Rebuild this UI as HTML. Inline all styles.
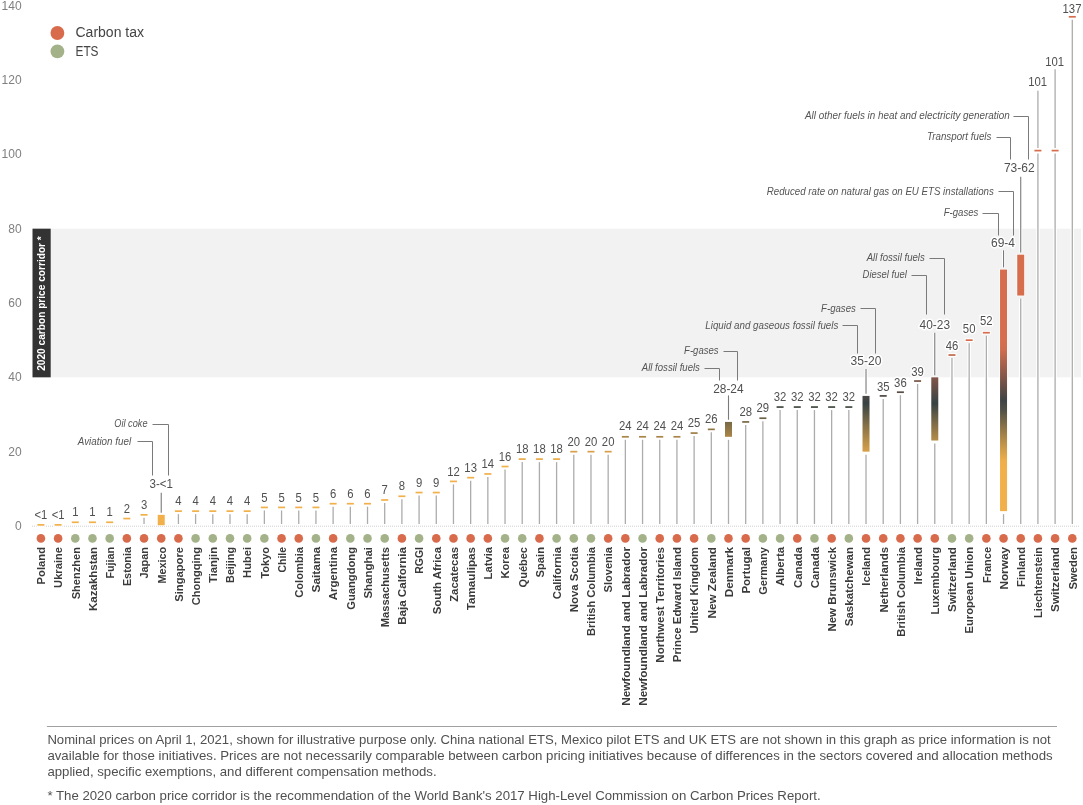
<!DOCTYPE html><html><head><meta charset="utf-8"><style>
html,body{margin:0;padding:0;background:#fff;width:1083px;height:805px;overflow:hidden}
svg{display:block;font-family:"Liberation Sans",sans-serif;will-change:transform}
.yl{font-size:12px;fill:#808080;text-anchor:end}
.vl{font-size:12.4px;fill:#505050;text-anchor:middle;stroke:#fff;stroke-width:3px;paint-order:stroke;stroke-linejoin:round}
.cl{font-size:11.2px;font-weight:bold;fill:#3a3a3a;text-anchor:end}
.an{font-size:10.1px;font-style:italic;fill:#555;text-anchor:end;stroke:#f2f2f2;stroke-width:0;}
.ft{font-size:13.2px;fill:#505050}
</style></head><body>
<svg width="1083" height="805" viewBox="0 0 1083 805">
<defs>
<linearGradient id="g7" gradientUnits="userSpaceOnUse" x1="0" y1="514.85" x2="0" y2="525.26">
<stop offset="0.0000" stop-color="#f2b04a"/>
<stop offset="0.0417" stop-color="#f2b04a"/>
<stop offset="0.0833" stop-color="#f2b04a"/>
<stop offset="0.1250" stop-color="#f2b04a"/>
<stop offset="0.1667" stop-color="#f2b04a"/>
<stop offset="0.2083" stop-color="#f2b04a"/>
<stop offset="0.2500" stop-color="#f2b04a"/>
<stop offset="0.2917" stop-color="#f2b04a"/>
<stop offset="0.3333" stop-color="#f2b04a"/>
<stop offset="0.3750" stop-color="#f2b04a"/>
<stop offset="0.4167" stop-color="#f2b04a"/>
<stop offset="0.4583" stop-color="#f2b04a"/>
<stop offset="0.5000" stop-color="#f2b04a"/>
<stop offset="0.5417" stop-color="#f2b04a"/>
<stop offset="0.5833" stop-color="#f2b04a"/>
<stop offset="0.6250" stop-color="#f2b04a"/>
<stop offset="0.6667" stop-color="#f2b04a"/>
<stop offset="0.7083" stop-color="#f2b04a"/>
<stop offset="0.7500" stop-color="#f2b04a"/>
<stop offset="0.7917" stop-color="#f2b04a"/>
<stop offset="0.8333" stop-color="#f2b04a"/>
<stop offset="0.8750" stop-color="#f2b04a"/>
<stop offset="0.9167" stop-color="#f2b04a"/>
<stop offset="0.9583" stop-color="#f2b04a"/>
<stop offset="1.0000" stop-color="#f2b04a"/>
</linearGradient>
<linearGradient id="g40" gradientUnits="userSpaceOnUse" x1="0" y1="421.93" x2="0" y2="436.80">
<stop offset="0.0000" stop-color="#786946"/>
<stop offset="0.0417" stop-color="#7b6a46"/>
<stop offset="0.0833" stop-color="#7d6b46"/>
<stop offset="0.1250" stop-color="#7f6c46"/>
<stop offset="0.1667" stop-color="#816d46"/>
<stop offset="0.2083" stop-color="#836f46"/>
<stop offset="0.2500" stop-color="#857047"/>
<stop offset="0.2917" stop-color="#877147"/>
<stop offset="0.3333" stop-color="#897247"/>
<stop offset="0.3750" stop-color="#8b7447"/>
<stop offset="0.4167" stop-color="#8d7547"/>
<stop offset="0.4583" stop-color="#8f7647"/>
<stop offset="0.5000" stop-color="#927747"/>
<stop offset="0.5417" stop-color="#947847"/>
<stop offset="0.5833" stop-color="#967a47"/>
<stop offset="0.6250" stop-color="#987b47"/>
<stop offset="0.6667" stop-color="#9a7c47"/>
<stop offset="0.7083" stop-color="#9c7d47"/>
<stop offset="0.7500" stop-color="#9e7e47"/>
<stop offset="0.7917" stop-color="#a08047"/>
<stop offset="0.8333" stop-color="#a28147"/>
<stop offset="0.8750" stop-color="#a48247"/>
<stop offset="0.9167" stop-color="#a68348"/>
<stop offset="0.9583" stop-color="#a88448"/>
<stop offset="1.0000" stop-color="#aa8548"/>
</linearGradient>
<linearGradient id="g48" gradientUnits="userSpaceOnUse" x1="0" y1="395.91" x2="0" y2="451.66">
<stop offset="0.0000" stop-color="#4c4845"/>
<stop offset="0.0417" stop-color="#464645"/>
<stop offset="0.0833" stop-color="#3f4444"/>
<stop offset="0.1250" stop-color="#384244"/>
<stop offset="0.1667" stop-color="#3e4644"/>
<stop offset="0.2083" stop-color="#464b44"/>
<stop offset="0.2500" stop-color="#4e5045"/>
<stop offset="0.2917" stop-color="#575545"/>
<stop offset="0.3333" stop-color="#5f5945"/>
<stop offset="0.3750" stop-color="#675e46"/>
<stop offset="0.4167" stop-color="#6f6346"/>
<stop offset="0.4583" stop-color="#776846"/>
<stop offset="0.5000" stop-color="#7f6c46"/>
<stop offset="0.5417" stop-color="#877147"/>
<stop offset="0.5833" stop-color="#8e7547"/>
<stop offset="0.6250" stop-color="#967a47"/>
<stop offset="0.6667" stop-color="#9e7e47"/>
<stop offset="0.7083" stop-color="#a58348"/>
<stop offset="0.7500" stop-color="#ad8748"/>
<stop offset="0.7917" stop-color="#b48c48"/>
<stop offset="0.8333" stop-color="#bb9048"/>
<stop offset="0.8750" stop-color="#c29448"/>
<stop offset="0.9167" stop-color="#c99849"/>
<stop offset="0.9583" stop-color="#d09c49"/>
<stop offset="1.0000" stop-color="#d7a049"/>
</linearGradient>
<linearGradient id="g52" gradientUnits="userSpaceOnUse" x1="0" y1="377.33" x2="0" y2="440.51">
<stop offset="0.0000" stop-color="#815749"/>
<stop offset="0.0417" stop-color="#7a5448"/>
<stop offset="0.0833" stop-color="#725248"/>
<stop offset="0.1250" stop-color="#6b5047"/>
<stop offset="0.1667" stop-color="#634e47"/>
<stop offset="0.2083" stop-color="#5c4c46"/>
<stop offset="0.2500" stop-color="#544a46"/>
<stop offset="0.2917" stop-color="#4d4845"/>
<stop offset="0.3333" stop-color="#454645"/>
<stop offset="0.3750" stop-color="#3e4444"/>
<stop offset="0.4167" stop-color="#384344"/>
<stop offset="0.4583" stop-color="#424844"/>
<stop offset="0.5000" stop-color="#4b4e45"/>
<stop offset="0.5417" stop-color="#545345"/>
<stop offset="0.5833" stop-color="#5e5945"/>
<stop offset="0.6250" stop-color="#675e46"/>
<stop offset="0.6667" stop-color="#706446"/>
<stop offset="0.7083" stop-color="#796946"/>
<stop offset="0.7500" stop-color="#826e46"/>
<stop offset="0.7917" stop-color="#8b7347"/>
<stop offset="0.8333" stop-color="#947847"/>
<stop offset="0.8750" stop-color="#9c7e47"/>
<stop offset="0.9167" stop-color="#a58348"/>
<stop offset="0.9583" stop-color="#ad8848"/>
<stop offset="1.0000" stop-color="#b58c48"/>
</linearGradient>
<linearGradient id="g56" gradientUnits="userSpaceOnUse" x1="0" y1="269.54" x2="0" y2="511.13">
<stop offset="0.0000" stop-color="#d66e4e"/>
<stop offset="0.0417" stop-color="#d66e4e"/>
<stop offset="0.0833" stop-color="#d66e4e"/>
<stop offset="0.1250" stop-color="#d66e4e"/>
<stop offset="0.1667" stop-color="#d66e4e"/>
<stop offset="0.2083" stop-color="#d66e4e"/>
<stop offset="0.2500" stop-color="#d66e4e"/>
<stop offset="0.2917" stop-color="#d66e4e"/>
<stop offset="0.3333" stop-color="#cf6c4e"/>
<stop offset="0.3750" stop-color="#b2644c"/>
<stop offset="0.4167" stop-color="#965c4a"/>
<stop offset="0.4583" stop-color="#795448"/>
<stop offset="0.5000" stop-color="#5c4c46"/>
<stop offset="0.5417" stop-color="#3f4445"/>
<stop offset="0.5833" stop-color="#515145"/>
<stop offset="0.6250" stop-color="#746646"/>
<stop offset="0.6667" stop-color="#967a47"/>
<stop offset="0.7083" stop-color="#b68d48"/>
<stop offset="0.7500" stop-color="#d49e49"/>
<stop offset="0.7917" stop-color="#eeae4a"/>
<stop offset="0.8333" stop-color="#f2b04a"/>
<stop offset="0.8750" stop-color="#f2b04a"/>
<stop offset="0.9167" stop-color="#f2b04a"/>
<stop offset="0.9583" stop-color="#f2b04a"/>
<stop offset="1.0000" stop-color="#f2b04a"/>
</linearGradient>
<linearGradient id="g57" gradientUnits="userSpaceOnUse" x1="0" y1="254.67" x2="0" y2="295.56">
<stop offset="0.0000" stop-color="#d66e4e"/>
<stop offset="0.0417" stop-color="#d66e4e"/>
<stop offset="0.0833" stop-color="#d66e4e"/>
<stop offset="0.1250" stop-color="#d66e4e"/>
<stop offset="0.1667" stop-color="#d66e4e"/>
<stop offset="0.2083" stop-color="#d66e4e"/>
<stop offset="0.2500" stop-color="#d66e4e"/>
<stop offset="0.2917" stop-color="#d66e4e"/>
<stop offset="0.3333" stop-color="#d66e4e"/>
<stop offset="0.3750" stop-color="#d66e4e"/>
<stop offset="0.4167" stop-color="#d66e4e"/>
<stop offset="0.4583" stop-color="#d66e4e"/>
<stop offset="0.5000" stop-color="#d66e4e"/>
<stop offset="0.5417" stop-color="#d66e4e"/>
<stop offset="0.5833" stop-color="#d66e4e"/>
<stop offset="0.6250" stop-color="#d66e4e"/>
<stop offset="0.6667" stop-color="#d66e4e"/>
<stop offset="0.7083" stop-color="#d66e4e"/>
<stop offset="0.7500" stop-color="#d66e4e"/>
<stop offset="0.7917" stop-color="#d66e4e"/>
<stop offset="0.8333" stop-color="#d66e4e"/>
<stop offset="0.8750" stop-color="#d66e4e"/>
<stop offset="0.9167" stop-color="#d66e4e"/>
<stop offset="0.9583" stop-color="#d66e4e"/>
<stop offset="1.0000" stop-color="#d66e4e"/>
</linearGradient>
</defs>
<rect x="50.7" y="228.66" width="1030.30" height="148.67" fill="#f2f2f2"/>
<rect x="32.5" y="228.66" width="18.2" height="148.67" fill="#333"/>
<text transform="translate(45.0,370.8) rotate(-90)" font-size="11.8px" font-weight="bold" fill="#fff" textLength="134.6" lengthAdjust="spacingAndGlyphs">2020 carbon price corridor *</text>
<text class="yl" x="21.6" y="530.10">0</text>
<text class="yl" x="21.6" y="455.76">20</text>
<text class="yl" x="21.6" y="381.43">40</text>
<text class="yl" x="21.6" y="307.09">60</text>
<text class="yl" x="21.6" y="232.76">80</text>
<text class="yl" x="21.6" y="158.42">100</text>
<text class="yl" x="21.6" y="84.08">120</text>
<text class="yl" x="21.6" y="9.75">140</text>
<line x1="32" y1="526.2" x2="1080" y2="526.2" stroke="#d0d0d0" stroke-width="1" stroke-dasharray="1 1"/>
<line x1="144.04" y1="517.85" x2="144.04" y2="524" stroke="#fff" stroke-width="3.5"/>
<line x1="144.04" y1="517.85" x2="144.04" y2="524" stroke="#acacac" stroke-width="1.3"/>
<line x1="178.42" y1="514.13" x2="178.42" y2="524" stroke="#fff" stroke-width="3.5"/>
<line x1="178.42" y1="514.13" x2="178.42" y2="524" stroke="#acacac" stroke-width="1.3"/>
<line x1="195.61" y1="514.13" x2="195.61" y2="524" stroke="#fff" stroke-width="3.5"/>
<line x1="195.61" y1="514.13" x2="195.61" y2="524" stroke="#acacac" stroke-width="1.3"/>
<line x1="212.80" y1="514.13" x2="212.80" y2="524" stroke="#fff" stroke-width="3.5"/>
<line x1="212.80" y1="514.13" x2="212.80" y2="524" stroke="#acacac" stroke-width="1.3"/>
<line x1="229.99" y1="514.13" x2="229.99" y2="524" stroke="#fff" stroke-width="3.5"/>
<line x1="229.99" y1="514.13" x2="229.99" y2="524" stroke="#acacac" stroke-width="1.3"/>
<line x1="247.18" y1="514.13" x2="247.18" y2="524" stroke="#fff" stroke-width="3.5"/>
<line x1="247.18" y1="514.13" x2="247.18" y2="524" stroke="#acacac" stroke-width="1.3"/>
<line x1="264.37" y1="510.42" x2="264.37" y2="524" stroke="#fff" stroke-width="3.5"/>
<line x1="264.37" y1="510.42" x2="264.37" y2="524" stroke="#acacac" stroke-width="1.3"/>
<line x1="281.56" y1="510.42" x2="281.56" y2="524" stroke="#fff" stroke-width="3.5"/>
<line x1="281.56" y1="510.42" x2="281.56" y2="524" stroke="#acacac" stroke-width="1.3"/>
<line x1="298.75" y1="510.42" x2="298.75" y2="524" stroke="#fff" stroke-width="3.5"/>
<line x1="298.75" y1="510.42" x2="298.75" y2="524" stroke="#acacac" stroke-width="1.3"/>
<line x1="315.94" y1="510.42" x2="315.94" y2="524" stroke="#fff" stroke-width="3.5"/>
<line x1="315.94" y1="510.42" x2="315.94" y2="524" stroke="#acacac" stroke-width="1.3"/>
<line x1="333.13" y1="506.70" x2="333.13" y2="524" stroke="#fff" stroke-width="3.5"/>
<line x1="333.13" y1="506.70" x2="333.13" y2="524" stroke="#acacac" stroke-width="1.3"/>
<line x1="350.32" y1="506.70" x2="350.32" y2="524" stroke="#fff" stroke-width="3.5"/>
<line x1="350.32" y1="506.70" x2="350.32" y2="524" stroke="#acacac" stroke-width="1.3"/>
<line x1="367.51" y1="506.70" x2="367.51" y2="524" stroke="#fff" stroke-width="3.5"/>
<line x1="367.51" y1="506.70" x2="367.51" y2="524" stroke="#acacac" stroke-width="1.3"/>
<line x1="384.70" y1="502.98" x2="384.70" y2="524" stroke="#fff" stroke-width="3.5"/>
<line x1="384.70" y1="502.98" x2="384.70" y2="524" stroke="#acacac" stroke-width="1.3"/>
<line x1="401.89" y1="499.27" x2="401.89" y2="524" stroke="#fff" stroke-width="3.5"/>
<line x1="401.89" y1="499.27" x2="401.89" y2="524" stroke="#acacac" stroke-width="1.3"/>
<line x1="419.08" y1="495.55" x2="419.08" y2="524" stroke="#fff" stroke-width="3.5"/>
<line x1="419.08" y1="495.55" x2="419.08" y2="524" stroke="#acacac" stroke-width="1.3"/>
<line x1="436.27" y1="495.55" x2="436.27" y2="524" stroke="#fff" stroke-width="3.5"/>
<line x1="436.27" y1="495.55" x2="436.27" y2="524" stroke="#acacac" stroke-width="1.3"/>
<line x1="453.46" y1="484.40" x2="453.46" y2="524" stroke="#fff" stroke-width="3.5"/>
<line x1="453.46" y1="484.40" x2="453.46" y2="524" stroke="#acacac" stroke-width="1.3"/>
<line x1="470.65" y1="480.68" x2="470.65" y2="524" stroke="#fff" stroke-width="3.5"/>
<line x1="470.65" y1="480.68" x2="470.65" y2="524" stroke="#acacac" stroke-width="1.3"/>
<line x1="487.84" y1="476.96" x2="487.84" y2="524" stroke="#fff" stroke-width="3.5"/>
<line x1="487.84" y1="476.96" x2="487.84" y2="524" stroke="#acacac" stroke-width="1.3"/>
<line x1="505.03" y1="469.53" x2="505.03" y2="524" stroke="#fff" stroke-width="3.5"/>
<line x1="505.03" y1="469.53" x2="505.03" y2="524" stroke="#acacac" stroke-width="1.3"/>
<line x1="522.22" y1="462.10" x2="522.22" y2="524" stroke="#fff" stroke-width="3.5"/>
<line x1="522.22" y1="462.10" x2="522.22" y2="524" stroke="#acacac" stroke-width="1.3"/>
<line x1="539.41" y1="462.10" x2="539.41" y2="524" stroke="#fff" stroke-width="3.5"/>
<line x1="539.41" y1="462.10" x2="539.41" y2="524" stroke="#acacac" stroke-width="1.3"/>
<line x1="556.60" y1="462.10" x2="556.60" y2="524" stroke="#fff" stroke-width="3.5"/>
<line x1="556.60" y1="462.10" x2="556.60" y2="524" stroke="#acacac" stroke-width="1.3"/>
<line x1="573.79" y1="454.66" x2="573.79" y2="524" stroke="#fff" stroke-width="3.5"/>
<line x1="573.79" y1="454.66" x2="573.79" y2="524" stroke="#acacac" stroke-width="1.3"/>
<line x1="590.98" y1="454.66" x2="590.98" y2="524" stroke="#fff" stroke-width="3.5"/>
<line x1="590.98" y1="454.66" x2="590.98" y2="524" stroke="#acacac" stroke-width="1.3"/>
<line x1="608.17" y1="454.66" x2="608.17" y2="524" stroke="#fff" stroke-width="3.5"/>
<line x1="608.17" y1="454.66" x2="608.17" y2="524" stroke="#acacac" stroke-width="1.3"/>
<line x1="625.36" y1="439.80" x2="625.36" y2="524" stroke="#fff" stroke-width="3.5"/>
<line x1="625.36" y1="439.80" x2="625.36" y2="524" stroke="#acacac" stroke-width="1.3"/>
<line x1="642.55" y1="439.80" x2="642.55" y2="524" stroke="#fff" stroke-width="3.5"/>
<line x1="642.55" y1="439.80" x2="642.55" y2="524" stroke="#acacac" stroke-width="1.3"/>
<line x1="659.74" y1="439.80" x2="659.74" y2="524" stroke="#fff" stroke-width="3.5"/>
<line x1="659.74" y1="439.80" x2="659.74" y2="524" stroke="#acacac" stroke-width="1.3"/>
<line x1="676.93" y1="439.80" x2="676.93" y2="524" stroke="#fff" stroke-width="3.5"/>
<line x1="676.93" y1="439.80" x2="676.93" y2="524" stroke="#acacac" stroke-width="1.3"/>
<line x1="694.12" y1="436.08" x2="694.12" y2="524" stroke="#fff" stroke-width="3.5"/>
<line x1="694.12" y1="436.08" x2="694.12" y2="524" stroke="#acacac" stroke-width="1.3"/>
<line x1="711.31" y1="432.36" x2="711.31" y2="524" stroke="#fff" stroke-width="3.5"/>
<line x1="711.31" y1="432.36" x2="711.31" y2="524" stroke="#acacac" stroke-width="1.3"/>
<line x1="728.50" y1="439.80" x2="728.50" y2="524" stroke="#fff" stroke-width="3.5"/>
<line x1="728.50" y1="439.80" x2="728.50" y2="524" stroke="#acacac" stroke-width="1.3"/>
<line x1="745.69" y1="424.93" x2="745.69" y2="524" stroke="#fff" stroke-width="3.5"/>
<line x1="745.69" y1="424.93" x2="745.69" y2="524" stroke="#acacac" stroke-width="1.3"/>
<line x1="762.88" y1="421.21" x2="762.88" y2="524" stroke="#fff" stroke-width="3.5"/>
<line x1="762.88" y1="421.21" x2="762.88" y2="524" stroke="#acacac" stroke-width="1.3"/>
<line x1="780.07" y1="410.06" x2="780.07" y2="524" stroke="#fff" stroke-width="3.5"/>
<line x1="780.07" y1="410.06" x2="780.07" y2="524" stroke="#acacac" stroke-width="1.3"/>
<line x1="797.26" y1="410.06" x2="797.26" y2="524" stroke="#fff" stroke-width="3.5"/>
<line x1="797.26" y1="410.06" x2="797.26" y2="524" stroke="#acacac" stroke-width="1.3"/>
<line x1="814.45" y1="410.06" x2="814.45" y2="524" stroke="#fff" stroke-width="3.5"/>
<line x1="814.45" y1="410.06" x2="814.45" y2="524" stroke="#acacac" stroke-width="1.3"/>
<line x1="831.64" y1="410.06" x2="831.64" y2="524" stroke="#fff" stroke-width="3.5"/>
<line x1="831.64" y1="410.06" x2="831.64" y2="524" stroke="#acacac" stroke-width="1.3"/>
<line x1="848.83" y1="410.06" x2="848.83" y2="524" stroke="#fff" stroke-width="3.5"/>
<line x1="848.83" y1="410.06" x2="848.83" y2="524" stroke="#acacac" stroke-width="1.3"/>
<line x1="866.02" y1="454.66" x2="866.02" y2="524" stroke="#fff" stroke-width="3.5"/>
<line x1="866.02" y1="454.66" x2="866.02" y2="524" stroke="#acacac" stroke-width="1.3"/>
<line x1="883.21" y1="398.91" x2="883.21" y2="524" stroke="#fff" stroke-width="3.5"/>
<line x1="883.21" y1="398.91" x2="883.21" y2="524" stroke="#acacac" stroke-width="1.3"/>
<line x1="900.40" y1="395.20" x2="900.40" y2="524" stroke="#fff" stroke-width="3.5"/>
<line x1="900.40" y1="395.20" x2="900.40" y2="524" stroke="#acacac" stroke-width="1.3"/>
<line x1="917.59" y1="384.04" x2="917.59" y2="524" stroke="#fff" stroke-width="3.5"/>
<line x1="917.59" y1="384.04" x2="917.59" y2="524" stroke="#acacac" stroke-width="1.3"/>
<line x1="934.78" y1="443.51" x2="934.78" y2="524" stroke="#fff" stroke-width="3.5"/>
<line x1="934.78" y1="443.51" x2="934.78" y2="524" stroke="#acacac" stroke-width="1.3"/>
<line x1="951.97" y1="358.03" x2="951.97" y2="524" stroke="#fff" stroke-width="3.5"/>
<line x1="951.97" y1="358.03" x2="951.97" y2="524" stroke="#acacac" stroke-width="1.3"/>
<line x1="969.16" y1="343.16" x2="969.16" y2="524" stroke="#fff" stroke-width="3.5"/>
<line x1="969.16" y1="343.16" x2="969.16" y2="524" stroke="#acacac" stroke-width="1.3"/>
<line x1="986.35" y1="335.73" x2="986.35" y2="524" stroke="#fff" stroke-width="3.5"/>
<line x1="986.35" y1="335.73" x2="986.35" y2="524" stroke="#acacac" stroke-width="1.3"/>
<line x1="1003.54" y1="514.13" x2="1003.54" y2="524" stroke="#fff" stroke-width="3.5"/>
<line x1="1003.54" y1="514.13" x2="1003.54" y2="524" stroke="#acacac" stroke-width="1.3"/>
<line x1="1020.73" y1="298.56" x2="1020.73" y2="524" stroke="#fff" stroke-width="3.5"/>
<line x1="1020.73" y1="298.56" x2="1020.73" y2="524" stroke="#acacac" stroke-width="1.3"/>
<line x1="1037.92" y1="90.70" x2="1037.92" y2="148.10" stroke="#fff" stroke-width="3.5"/>
<line x1="1037.92" y1="90.70" x2="1037.92" y2="148.10" stroke="#acacac" stroke-width="1.3"/>
<line x1="1037.92" y1="153.60" x2="1037.92" y2="524" stroke="#fff" stroke-width="3.5"/>
<line x1="1037.92" y1="153.60" x2="1037.92" y2="524" stroke="#acacac" stroke-width="1.3"/>
<line x1="1055.11" y1="69.20" x2="1055.11" y2="148.10" stroke="#fff" stroke-width="3.5"/>
<line x1="1055.11" y1="69.20" x2="1055.11" y2="148.10" stroke="#acacac" stroke-width="1.3"/>
<line x1="1055.11" y1="153.60" x2="1055.11" y2="524" stroke="#fff" stroke-width="3.5"/>
<line x1="1055.11" y1="153.60" x2="1055.11" y2="524" stroke="#acacac" stroke-width="1.3"/>
<line x1="1072.30" y1="19.80" x2="1072.30" y2="524" stroke="#fff" stroke-width="3.5"/>
<line x1="1072.30" y1="19.80" x2="1072.30" y2="524" stroke="#acacac" stroke-width="1.3"/>
<line x1="161.23" y1="492.70" x2="161.23" y2="512.65" stroke="#fff" stroke-width="3"/>
<line x1="161.23" y1="492.70" x2="161.23" y2="512.65" stroke="#7a7a7a" stroke-width="1.1"/>
<line x1="728.50" y1="395.40" x2="728.50" y2="419.73" stroke="#fff" stroke-width="3"/>
<line x1="728.50" y1="395.40" x2="728.50" y2="419.73" stroke="#7a7a7a" stroke-width="1.1"/>
<line x1="866.02" y1="369.00" x2="866.02" y2="393.71" stroke="#fff" stroke-width="3"/>
<line x1="866.02" y1="369.00" x2="866.02" y2="393.71" stroke="#7a7a7a" stroke-width="1.1"/>
<line x1="934.78" y1="332.80" x2="934.78" y2="375.13" stroke="#fff" stroke-width="3"/>
<line x1="934.78" y1="332.80" x2="934.78" y2="375.13" stroke="#7a7a7a" stroke-width="1.1"/>
<line x1="1003.54" y1="250.30" x2="1003.54" y2="267.34" stroke="#fff" stroke-width="3"/>
<line x1="1003.54" y1="250.30" x2="1003.54" y2="267.34" stroke="#7a7a7a" stroke-width="1.1"/>
<line x1="1020.73" y1="176.80" x2="1020.73" y2="252.47" stroke="#fff" stroke-width="3"/>
<line x1="1020.73" y1="176.80" x2="1020.73" y2="252.47" stroke="#7a7a7a" stroke-width="1.1"/>
<rect x="37.40" y="524.03" width="7" height="1.7" fill="#f2b04a" stroke="#fff" stroke-width="2" paint-order="stroke"/>
<rect x="54.59" y="524.03" width="7" height="1.7" fill="#f2b04a" stroke="#fff" stroke-width="2" paint-order="stroke"/>
<rect x="71.78" y="521.43" width="7" height="1.7" fill="#f2b04a" stroke="#fff" stroke-width="2" paint-order="stroke"/>
<rect x="88.97" y="521.43" width="7" height="1.7" fill="#f2b04a" stroke="#fff" stroke-width="2" paint-order="stroke"/>
<rect x="106.16" y="521.43" width="7" height="1.7" fill="#f2b04a" stroke="#fff" stroke-width="2" paint-order="stroke"/>
<rect x="123.35" y="517.72" width="7" height="1.7" fill="#f2b04a" stroke="#fff" stroke-width="2" paint-order="stroke"/>
<rect x="140.54" y="514.00" width="7" height="1.7" fill="#f2b04a" stroke="#fff" stroke-width="2" paint-order="stroke"/>
<rect x="157.73" y="514.85" width="7" height="10.41" fill="url(#g7)" stroke="#fff" stroke-width="1.4" paint-order="stroke"/>
<rect x="174.92" y="510.28" width="7" height="1.7" fill="#f2b04a" stroke="#fff" stroke-width="2" paint-order="stroke"/>
<rect x="192.11" y="510.28" width="7" height="1.7" fill="#f2b04a" stroke="#fff" stroke-width="2" paint-order="stroke"/>
<rect x="209.30" y="510.28" width="7" height="1.7" fill="#f2b04a" stroke="#fff" stroke-width="2" paint-order="stroke"/>
<rect x="226.49" y="510.28" width="7" height="1.7" fill="#f2b04a" stroke="#fff" stroke-width="2" paint-order="stroke"/>
<rect x="243.68" y="510.28" width="7" height="1.7" fill="#f2b04a" stroke="#fff" stroke-width="2" paint-order="stroke"/>
<rect x="260.87" y="506.57" width="7" height="1.7" fill="#f2b04a" stroke="#fff" stroke-width="2" paint-order="stroke"/>
<rect x="278.06" y="506.57" width="7" height="1.7" fill="#f2b04a" stroke="#fff" stroke-width="2" paint-order="stroke"/>
<rect x="295.25" y="506.57" width="7" height="1.7" fill="#f2b04a" stroke="#fff" stroke-width="2" paint-order="stroke"/>
<rect x="312.44" y="506.57" width="7" height="1.7" fill="#f2b04a" stroke="#fff" stroke-width="2" paint-order="stroke"/>
<rect x="329.63" y="502.85" width="7" height="1.7" fill="#f2b04a" stroke="#fff" stroke-width="2" paint-order="stroke"/>
<rect x="346.82" y="502.85" width="7" height="1.7" fill="#f2b04a" stroke="#fff" stroke-width="2" paint-order="stroke"/>
<rect x="364.01" y="502.85" width="7" height="1.7" fill="#f2b04a" stroke="#fff" stroke-width="2" paint-order="stroke"/>
<rect x="381.20" y="499.13" width="7" height="1.7" fill="#f2b04a" stroke="#fff" stroke-width="2" paint-order="stroke"/>
<rect x="398.39" y="495.42" width="7" height="1.7" fill="#f2b04a" stroke="#fff" stroke-width="2" paint-order="stroke"/>
<rect x="415.58" y="491.70" width="7" height="1.7" fill="#f2b04a" stroke="#fff" stroke-width="2" paint-order="stroke"/>
<rect x="432.77" y="491.70" width="7" height="1.7" fill="#f2b04a" stroke="#fff" stroke-width="2" paint-order="stroke"/>
<rect x="449.96" y="480.55" width="7" height="1.7" fill="#f2b04a" stroke="#fff" stroke-width="2" paint-order="stroke"/>
<rect x="467.15" y="476.83" width="7" height="1.7" fill="#f2b04a" stroke="#fff" stroke-width="2" paint-order="stroke"/>
<rect x="484.34" y="473.11" width="7" height="1.7" fill="#f2b04a" stroke="#fff" stroke-width="2" paint-order="stroke"/>
<rect x="501.53" y="465.68" width="7" height="1.7" fill="#f2b04a" stroke="#fff" stroke-width="2" paint-order="stroke"/>
<rect x="518.72" y="458.25" width="7" height="1.7" fill="#eaab4a" stroke="#fff" stroke-width="2" paint-order="stroke"/>
<rect x="535.91" y="458.25" width="7" height="1.7" fill="#eaab4a" stroke="#fff" stroke-width="2" paint-order="stroke"/>
<rect x="553.10" y="458.25" width="7" height="1.7" fill="#eaab4a" stroke="#fff" stroke-width="2" paint-order="stroke"/>
<rect x="570.29" y="450.81" width="7" height="1.7" fill="#d7a049" stroke="#fff" stroke-width="2" paint-order="stroke"/>
<rect x="587.48" y="450.81" width="7" height="1.7" fill="#d7a049" stroke="#fff" stroke-width="2" paint-order="stroke"/>
<rect x="604.67" y="450.81" width="7" height="1.7" fill="#d7a049" stroke="#fff" stroke-width="2" paint-order="stroke"/>
<rect x="621.86" y="435.95" width="7" height="1.7" fill="#aa8548" stroke="#fff" stroke-width="2" paint-order="stroke"/>
<rect x="639.05" y="435.95" width="7" height="1.7" fill="#aa8548" stroke="#fff" stroke-width="2" paint-order="stroke"/>
<rect x="656.24" y="435.95" width="7" height="1.7" fill="#aa8548" stroke="#fff" stroke-width="2" paint-order="stroke"/>
<rect x="673.43" y="435.95" width="7" height="1.7" fill="#aa8548" stroke="#fff" stroke-width="2" paint-order="stroke"/>
<rect x="690.62" y="432.23" width="7" height="1.7" fill="#9e7e47" stroke="#fff" stroke-width="2" paint-order="stroke"/>
<rect x="707.81" y="428.51" width="7" height="1.7" fill="#927747" stroke="#fff" stroke-width="2" paint-order="stroke"/>
<rect x="725.00" y="421.93" width="7" height="14.87" fill="url(#g40)" stroke="#fff" stroke-width="1.4" paint-order="stroke"/>
<rect x="742.19" y="421.08" width="7" height="1.7" fill="#786946" stroke="#fff" stroke-width="2" paint-order="stroke"/>
<rect x="759.38" y="417.36" width="7" height="1.7" fill="#6c6146" stroke="#fff" stroke-width="2" paint-order="stroke"/>
<rect x="776.57" y="406.21" width="7" height="1.7" fill="#444a44" stroke="#fff" stroke-width="2" paint-order="stroke"/>
<rect x="793.76" y="406.21" width="7" height="1.7" fill="#444a44" stroke="#fff" stroke-width="2" paint-order="stroke"/>
<rect x="810.95" y="406.21" width="7" height="1.7" fill="#444a44" stroke="#fff" stroke-width="2" paint-order="stroke"/>
<rect x="828.14" y="406.21" width="7" height="1.7" fill="#444a44" stroke="#fff" stroke-width="2" paint-order="stroke"/>
<rect x="845.33" y="406.21" width="7" height="1.7" fill="#444a44" stroke="#fff" stroke-width="2" paint-order="stroke"/>
<rect x="862.52" y="395.91" width="7" height="55.75" fill="url(#g48)" stroke="#fff" stroke-width="1.4" paint-order="stroke"/>
<rect x="879.71" y="395.06" width="7" height="1.7" fill="#4c4845" stroke="#fff" stroke-width="2" paint-order="stroke"/>
<rect x="896.90" y="391.35" width="7" height="1.7" fill="#574b46" stroke="#fff" stroke-width="2" paint-order="stroke"/>
<rect x="914.09" y="380.19" width="7" height="1.7" fill="#775448" stroke="#fff" stroke-width="2" paint-order="stroke"/>
<rect x="931.28" y="377.33" width="7" height="63.19" fill="url(#g52)" stroke="#fff" stroke-width="1.4" paint-order="stroke"/>
<rect x="948.47" y="354.18" width="7" height="1.7" fill="#c1684d" stroke="#fff" stroke-width="2" paint-order="stroke"/>
<rect x="965.66" y="339.31" width="7" height="1.7" fill="#d66e4e" stroke="#fff" stroke-width="2" paint-order="stroke"/>
<rect x="982.85" y="331.88" width="7" height="1.7" fill="#d66e4e" stroke="#fff" stroke-width="2" paint-order="stroke"/>
<rect x="1000.04" y="269.54" width="7" height="241.59" fill="url(#g56)" stroke="#fff" stroke-width="1.4" paint-order="stroke"/>
<rect x="1017.23" y="254.67" width="7" height="40.88" fill="url(#g57)" stroke="#fff" stroke-width="1.4" paint-order="stroke"/>
<rect x="1034.42" y="149.75" width="7" height="1.7" fill="#d66e4e" stroke="#fff" stroke-width="2" paint-order="stroke"/>
<rect x="1051.61" y="149.75" width="7" height="1.7" fill="#d66e4e" stroke="#fff" stroke-width="2" paint-order="stroke"/>
<rect x="1068.80" y="15.95" width="7" height="1.7" fill="#d66e4e" stroke="#fff" stroke-width="2" paint-order="stroke"/>
<circle cx="40.90" cy="538.4" r="4.3" fill="#d86b4c"/>
<circle cx="58.09" cy="538.4" r="4.3" fill="#d86b4c"/>
<circle cx="75.28" cy="538.4" r="4.3" fill="#a4b28a"/>
<circle cx="92.47" cy="538.4" r="4.3" fill="#a4b28a"/>
<circle cx="109.66" cy="538.4" r="4.3" fill="#a4b28a"/>
<circle cx="126.85" cy="538.4" r="4.3" fill="#d86b4c"/>
<circle cx="144.04" cy="538.4" r="4.3" fill="#d86b4c"/>
<circle cx="161.23" cy="538.4" r="4.3" fill="#d86b4c"/>
<circle cx="178.42" cy="538.4" r="4.3" fill="#d86b4c"/>
<circle cx="195.61" cy="538.4" r="4.3" fill="#a4b28a"/>
<circle cx="212.80" cy="538.4" r="4.3" fill="#a4b28a"/>
<circle cx="229.99" cy="538.4" r="4.3" fill="#a4b28a"/>
<circle cx="247.18" cy="538.4" r="4.3" fill="#a4b28a"/>
<circle cx="264.37" cy="538.4" r="4.3" fill="#a4b28a"/>
<circle cx="281.56" cy="538.4" r="4.3" fill="#d86b4c"/>
<circle cx="298.75" cy="538.4" r="4.3" fill="#d86b4c"/>
<circle cx="315.94" cy="538.4" r="4.3" fill="#a4b28a"/>
<circle cx="333.13" cy="538.4" r="4.3" fill="#d86b4c"/>
<circle cx="350.32" cy="538.4" r="4.3" fill="#a4b28a"/>
<circle cx="367.51" cy="538.4" r="4.3" fill="#a4b28a"/>
<circle cx="384.70" cy="538.4" r="4.3" fill="#a4b28a"/>
<circle cx="401.89" cy="538.4" r="4.3" fill="#d86b4c"/>
<circle cx="419.08" cy="538.4" r="4.3" fill="#a4b28a"/>
<circle cx="436.27" cy="538.4" r="4.3" fill="#d86b4c"/>
<circle cx="453.46" cy="538.4" r="4.3" fill="#d86b4c"/>
<circle cx="470.65" cy="538.4" r="4.3" fill="#d86b4c"/>
<circle cx="487.84" cy="538.4" r="4.3" fill="#d86b4c"/>
<circle cx="505.03" cy="538.4" r="4.3" fill="#a4b28a"/>
<circle cx="522.22" cy="538.4" r="4.3" fill="#a4b28a"/>
<circle cx="539.41" cy="538.4" r="4.3" fill="#d86b4c"/>
<circle cx="556.60" cy="538.4" r="4.3" fill="#a4b28a"/>
<circle cx="573.79" cy="538.4" r="4.3" fill="#a4b28a"/>
<circle cx="590.98" cy="538.4" r="4.3" fill="#a4b28a"/>
<circle cx="608.17" cy="538.4" r="4.3" fill="#d86b4c"/>
<circle cx="625.36" cy="538.4" r="4.3" fill="#d86b4c"/>
<circle cx="642.55" cy="538.4" r="4.3" fill="#a4b28a"/>
<circle cx="659.74" cy="538.4" r="4.3" fill="#d86b4c"/>
<circle cx="676.93" cy="538.4" r="4.3" fill="#d86b4c"/>
<circle cx="694.12" cy="538.4" r="4.3" fill="#d86b4c"/>
<circle cx="711.31" cy="538.4" r="4.3" fill="#a4b28a"/>
<circle cx="728.50" cy="538.4" r="4.3" fill="#d86b4c"/>
<circle cx="745.69" cy="538.4" r="4.3" fill="#d86b4c"/>
<circle cx="762.88" cy="538.4" r="4.3" fill="#a4b28a"/>
<circle cx="780.07" cy="538.4" r="4.3" fill="#a4b28a"/>
<circle cx="797.26" cy="538.4" r="4.3" fill="#d86b4c"/>
<circle cx="814.45" cy="538.4" r="4.3" fill="#a4b28a"/>
<circle cx="831.64" cy="538.4" r="4.3" fill="#d86b4c"/>
<circle cx="848.83" cy="538.4" r="4.3" fill="#a4b28a"/>
<circle cx="866.02" cy="538.4" r="4.3" fill="#d86b4c"/>
<circle cx="883.21" cy="538.4" r="4.3" fill="#d86b4c"/>
<circle cx="900.40" cy="538.4" r="4.3" fill="#d86b4c"/>
<circle cx="917.59" cy="538.4" r="4.3" fill="#d86b4c"/>
<circle cx="934.78" cy="538.4" r="4.3" fill="#d86b4c"/>
<circle cx="951.97" cy="538.4" r="4.3" fill="#a4b28a"/>
<circle cx="969.16" cy="538.4" r="4.3" fill="#a4b28a"/>
<circle cx="986.35" cy="538.4" r="4.3" fill="#d86b4c"/>
<circle cx="1003.54" cy="538.4" r="4.3" fill="#d86b4c"/>
<circle cx="1020.73" cy="538.4" r="4.3" fill="#d86b4c"/>
<circle cx="1037.92" cy="538.4" r="4.3" fill="#d86b4c"/>
<circle cx="1055.11" cy="538.4" r="4.3" fill="#d86b4c"/>
<circle cx="1072.30" cy="538.4" r="4.3" fill="#d86b4c"/>
<text class="cl" transform="translate(45.20,547) rotate(-90)" textLength="37.4" lengthAdjust="spacingAndGlyphs">Poland</text>
<text class="cl" transform="translate(62.39,547) rotate(-90)" textLength="40.9" lengthAdjust="spacingAndGlyphs">Ukraine</text>
<text class="cl" transform="translate(79.58,547) rotate(-90)" textLength="52.3" lengthAdjust="spacingAndGlyphs">Shenzhen</text>
<text class="cl" transform="translate(96.77,547) rotate(-90)" textLength="64.0" lengthAdjust="spacingAndGlyphs">Kazakhstan</text>
<text class="cl" transform="translate(113.96,547) rotate(-90)" textLength="31.6" lengthAdjust="spacingAndGlyphs">Fujian</text>
<text class="cl" transform="translate(131.15,547) rotate(-90)" textLength="39.1" lengthAdjust="spacingAndGlyphs">Estonia</text>
<text class="cl" transform="translate(148.34,547) rotate(-90)" textLength="31.6" lengthAdjust="spacingAndGlyphs">Japan</text>
<text class="cl" transform="translate(165.53,547) rotate(-90)" textLength="36.6" lengthAdjust="spacingAndGlyphs">Mexico</text>
<text class="cl" transform="translate(182.72,547) rotate(-90)" textLength="54.8" lengthAdjust="spacingAndGlyphs">Singapore</text>
<text class="cl" transform="translate(199.91,547) rotate(-90)" textLength="58.3" lengthAdjust="spacingAndGlyphs">Chongqing</text>
<text class="cl" transform="translate(217.10,547) rotate(-90)" textLength="35.9" lengthAdjust="spacingAndGlyphs">Tianjin</text>
<text class="cl" transform="translate(234.29,547) rotate(-90)" textLength="35.9" lengthAdjust="spacingAndGlyphs">Beijing</text>
<text class="cl" transform="translate(251.48,547) rotate(-90)" textLength="30.9" lengthAdjust="spacingAndGlyphs">Hubei</text>
<text class="cl" transform="translate(268.67,547) rotate(-90)" textLength="31.6" lengthAdjust="spacingAndGlyphs">Tokyo</text>
<text class="cl" transform="translate(285.86,547) rotate(-90)" textLength="25.4" lengthAdjust="spacingAndGlyphs">Chile</text>
<text class="cl" transform="translate(303.05,547) rotate(-90)" textLength="50.8" lengthAdjust="spacingAndGlyphs">Colombia</text>
<text class="cl" transform="translate(320.24,547) rotate(-90)" textLength="45.4" lengthAdjust="spacingAndGlyphs">Saitama</text>
<text class="cl" transform="translate(337.43,547) rotate(-90)" textLength="53.3" lengthAdjust="spacingAndGlyphs">Argentina</text>
<text class="cl" transform="translate(354.62,547) rotate(-90)" textLength="62.8" lengthAdjust="spacingAndGlyphs">Guangdong</text>
<text class="cl" transform="translate(371.81,547) rotate(-90)" textLength="51.6" lengthAdjust="spacingAndGlyphs">Shanghai</text>
<text class="cl" transform="translate(389.00,547) rotate(-90)" textLength="80.3" lengthAdjust="spacingAndGlyphs">Massachusetts</text>
<text class="cl" transform="translate(406.19,547) rotate(-90)" textLength="77.8" lengthAdjust="spacingAndGlyphs">Baja Calfornia</text>
<text class="cl" transform="translate(423.38,547) rotate(-90)" textLength="26.7" lengthAdjust="spacingAndGlyphs">RGGI</text>
<text class="cl" transform="translate(440.57,547) rotate(-90)" textLength="67.3" lengthAdjust="spacingAndGlyphs">South Africa</text>
<text class="cl" transform="translate(457.76,547) rotate(-90)" textLength="54.8" lengthAdjust="spacingAndGlyphs">Zacatecas</text>
<text class="cl" transform="translate(474.95,547) rotate(-90)" textLength="63.3" lengthAdjust="spacingAndGlyphs">Tamaulipas</text>
<text class="cl" transform="translate(492.14,547) rotate(-90)" textLength="32.4" lengthAdjust="spacingAndGlyphs">Latvia</text>
<text class="cl" transform="translate(509.33,547) rotate(-90)" textLength="31.6" lengthAdjust="spacingAndGlyphs">Korea</text>
<text class="cl" transform="translate(526.52,547) rotate(-90)" textLength="40.4" lengthAdjust="spacingAndGlyphs">Québec</text>
<text class="cl" transform="translate(543.71,547) rotate(-90)" textLength="30.4" lengthAdjust="spacingAndGlyphs">Spain</text>
<text class="cl" transform="translate(560.90,547) rotate(-90)" textLength="52.3" lengthAdjust="spacingAndGlyphs">California</text>
<text class="cl" transform="translate(578.09,547) rotate(-90)" textLength="65.3" lengthAdjust="spacingAndGlyphs">Nova Scotia</text>
<text class="cl" transform="translate(595.28,547) rotate(-90)" textLength="89.0" lengthAdjust="spacingAndGlyphs">British Columbia</text>
<text class="cl" transform="translate(612.47,547) rotate(-90)" textLength="45.4" lengthAdjust="spacingAndGlyphs">Slovenia</text>
<text class="cl" transform="translate(629.66,547) rotate(-90)" textLength="158.8" lengthAdjust="spacingAndGlyphs">Newfoundland and Labrador</text>
<text class="cl" transform="translate(646.85,547) rotate(-90)" textLength="158.8" lengthAdjust="spacingAndGlyphs">Newfoundland and Labrador</text>
<text class="cl" transform="translate(664.04,547) rotate(-90)" textLength="115.7" lengthAdjust="spacingAndGlyphs">Northwest Territories</text>
<text class="cl" transform="translate(681.23,547) rotate(-90)" textLength="115.2" lengthAdjust="spacingAndGlyphs">Prince Edward Island</text>
<text class="cl" transform="translate(698.42,547) rotate(-90)" textLength="86.5" lengthAdjust="spacingAndGlyphs">United Kingdom</text>
<text class="cl" transform="translate(715.61,547) rotate(-90)" textLength="71.5" lengthAdjust="spacingAndGlyphs">New Zealand</text>
<text class="cl" transform="translate(732.80,547) rotate(-90)" textLength="50.3" lengthAdjust="spacingAndGlyphs">Denmark</text>
<text class="cl" transform="translate(749.99,547) rotate(-90)" textLength="46.6" lengthAdjust="spacingAndGlyphs">Portugal</text>
<text class="cl" transform="translate(767.18,547) rotate(-90)" textLength="47.8" lengthAdjust="spacingAndGlyphs">Germany</text>
<text class="cl" transform="translate(784.37,547) rotate(-90)" textLength="39.1" lengthAdjust="spacingAndGlyphs">Alberta</text>
<text class="cl" transform="translate(801.56,547) rotate(-90)" textLength="40.9" lengthAdjust="spacingAndGlyphs">Canada</text>
<text class="cl" transform="translate(818.75,547) rotate(-90)" textLength="41.3" lengthAdjust="spacingAndGlyphs">Canada</text>
<text class="cl" transform="translate(835.94,547) rotate(-90)" textLength="84.5" lengthAdjust="spacingAndGlyphs">New Brunswick</text>
<text class="cl" transform="translate(853.13,547) rotate(-90)" textLength="79.2" lengthAdjust="spacingAndGlyphs">Saskatchewan</text>
<text class="cl" transform="translate(870.32,547) rotate(-90)" textLength="38.7" lengthAdjust="spacingAndGlyphs">Iceland</text>
<text class="cl" transform="translate(887.51,547) rotate(-90)" textLength="65.6" lengthAdjust="spacingAndGlyphs">Netherlands</text>
<text class="cl" transform="translate(904.70,547) rotate(-90)" textLength="89.7" lengthAdjust="spacingAndGlyphs">British Columbia</text>
<text class="cl" transform="translate(921.89,547) rotate(-90)" textLength="37.4" lengthAdjust="spacingAndGlyphs">Ireland</text>
<text class="cl" transform="translate(939.08,547) rotate(-90)" textLength="67.5" lengthAdjust="spacingAndGlyphs">Luxembourg</text>
<text class="cl" transform="translate(956.27,547) rotate(-90)" textLength="64.9" lengthAdjust="spacingAndGlyphs">Switzerland</text>
<text class="cl" transform="translate(973.46,547) rotate(-90)" textLength="86.5" lengthAdjust="spacingAndGlyphs">European Union</text>
<text class="cl" transform="translate(990.65,547) rotate(-90)" textLength="36.1" lengthAdjust="spacingAndGlyphs">France</text>
<text class="cl" transform="translate(1007.84,547) rotate(-90)" textLength="42.6" lengthAdjust="spacingAndGlyphs">Norway</text>
<text class="cl" transform="translate(1025.03,547) rotate(-90)" textLength="40.0" lengthAdjust="spacingAndGlyphs">Finland</text>
<text class="cl" transform="translate(1042.22,547) rotate(-90)" textLength="70.9" lengthAdjust="spacingAndGlyphs">Liechtenstein</text>
<text class="cl" transform="translate(1059.41,547) rotate(-90)" textLength="64.9" lengthAdjust="spacingAndGlyphs">Switzerland</text>
<text class="cl" transform="translate(1076.60,547) rotate(-90)" textLength="42.6" lengthAdjust="spacingAndGlyphs">Sweden</text>
<path d="M137.5 441.5H152.5V475.5" fill="none" stroke="#7a7a7a" stroke-width="1"/>
<path d="M152.5 424.5H168.5V475.5" fill="none" stroke="#7a7a7a" stroke-width="1"/>
<path d="M704.5 368.5H719.5V380.5" fill="none" stroke="#7a7a7a" stroke-width="1"/>
<path d="M723.5 351.5H737.5V380.5" fill="none" stroke="#7a7a7a" stroke-width="1"/>
<path d="M842.5 325.5H857.5V353.5" fill="none" stroke="#7a7a7a" stroke-width="1"/>
<path d="M860.5 308.5H875.5V353.5" fill="none" stroke="#7a7a7a" stroke-width="1"/>
<path d="M929.5 258.5H944.5V314.5" fill="none" stroke="#7a7a7a" stroke-width="1"/>
<path d="M911.5 275.5H926.5V314.5" fill="none" stroke="#7a7a7a" stroke-width="1"/>
<path d="M998.5 191.5H1013.5V235.5" fill="none" stroke="#7a7a7a" stroke-width="1"/>
<path d="M982.5 213.5H998.5V235.5" fill="none" stroke="#7a7a7a" stroke-width="1"/>
<path d="M1013.5 116.5H1028.5V159.5" fill="none" stroke="#7a7a7a" stroke-width="1"/>
<path d="M996.5 137.5H1010.5V159.5" fill="none" stroke="#7a7a7a" stroke-width="1"/>
<text class="an" x="131.1" y="444.6" textLength="53.3" lengthAdjust="spacingAndGlyphs">Aviation fuel</text>
<text class="an" x="147.5" y="427.4" textLength="33.2" lengthAdjust="spacingAndGlyphs">Oil coke</text>
<text class="an" x="699.9" y="371.2" textLength="58.1" lengthAdjust="spacingAndGlyphs">All fossil fuels</text>
<text class="an" x="718.5" y="354.2" textLength="34.4" lengthAdjust="spacingAndGlyphs">F-gases</text>
<text class="an" x="838.3" y="329.0" textLength="133.0" lengthAdjust="spacingAndGlyphs">Liquid and gaseous fossil fuels</text>
<text class="an" x="855.8" y="311.7" textLength="34.7" lengthAdjust="spacingAndGlyphs">F-gases</text>
<text class="an" x="924.8" y="260.8" textLength="58.1" lengthAdjust="spacingAndGlyphs">All fossil fuels</text>
<text class="an" x="906.8" y="278.4" textLength="44.2" lengthAdjust="spacingAndGlyphs">Diesel fuel</text>
<text class="an" x="993.8" y="194.8" textLength="227.0" lengthAdjust="spacingAndGlyphs">Reduced rate on natural gas on EU ETS installations</text>
<text class="an" x="978.3" y="215.7" textLength="34.6" lengthAdjust="spacingAndGlyphs">F-gases</text>
<text class="an" x="1009.8" y="119.0" textLength="204.8" lengthAdjust="spacingAndGlyphs">All other fuels in heat and electricity generation</text>
<text class="an" x="991.4" y="139.6" textLength="64.4" lengthAdjust="spacingAndGlyphs">Transport fuels</text>
<text class="vl" x="40.90" y="518.98" textLength="12.9" lengthAdjust="spacingAndGlyphs">&lt;1</text>
<text class="vl" x="58.09" y="518.98" textLength="12.9" lengthAdjust="spacingAndGlyphs">&lt;1</text>
<text class="vl" x="75.28" y="516.38" textLength="6.3" lengthAdjust="spacingAndGlyphs">1</text>
<text class="vl" x="92.47" y="516.38" textLength="6.3" lengthAdjust="spacingAndGlyphs">1</text>
<text class="vl" x="109.66" y="516.38" textLength="6.3" lengthAdjust="spacingAndGlyphs">1</text>
<text class="vl" x="126.85" y="512.67" textLength="6.3" lengthAdjust="spacingAndGlyphs">2</text>
<text class="vl" x="144.04" y="508.95" textLength="6.3" lengthAdjust="spacingAndGlyphs">3</text>
<text class="vl" x="161.20" y="488.30" textLength="23.4" lengthAdjust="spacingAndGlyphs">3-&lt;1</text>
<text class="vl" x="178.42" y="505.23" textLength="6.3" lengthAdjust="spacingAndGlyphs">4</text>
<text class="vl" x="195.61" y="505.23" textLength="6.3" lengthAdjust="spacingAndGlyphs">4</text>
<text class="vl" x="212.80" y="505.23" textLength="6.3" lengthAdjust="spacingAndGlyphs">4</text>
<text class="vl" x="229.99" y="505.23" textLength="6.3" lengthAdjust="spacingAndGlyphs">4</text>
<text class="vl" x="247.18" y="505.23" textLength="6.3" lengthAdjust="spacingAndGlyphs">4</text>
<text class="vl" x="264.37" y="501.52" textLength="6.3" lengthAdjust="spacingAndGlyphs">5</text>
<text class="vl" x="281.56" y="501.52" textLength="6.3" lengthAdjust="spacingAndGlyphs">5</text>
<text class="vl" x="298.75" y="501.52" textLength="6.3" lengthAdjust="spacingAndGlyphs">5</text>
<text class="vl" x="315.94" y="501.52" textLength="6.3" lengthAdjust="spacingAndGlyphs">5</text>
<text class="vl" x="333.13" y="497.80" textLength="6.3" lengthAdjust="spacingAndGlyphs">6</text>
<text class="vl" x="350.32" y="497.80" textLength="6.3" lengthAdjust="spacingAndGlyphs">6</text>
<text class="vl" x="367.51" y="497.80" textLength="6.3" lengthAdjust="spacingAndGlyphs">6</text>
<text class="vl" x="384.70" y="494.08" textLength="6.3" lengthAdjust="spacingAndGlyphs">7</text>
<text class="vl" x="401.89" y="490.37" textLength="6.3" lengthAdjust="spacingAndGlyphs">8</text>
<text class="vl" x="419.08" y="486.65" textLength="6.3" lengthAdjust="spacingAndGlyphs">9</text>
<text class="vl" x="436.27" y="486.65" textLength="6.3" lengthAdjust="spacingAndGlyphs">9</text>
<text class="vl" x="453.46" y="475.50" textLength="12.6" lengthAdjust="spacingAndGlyphs">12</text>
<text class="vl" x="470.65" y="471.78" textLength="12.6" lengthAdjust="spacingAndGlyphs">13</text>
<text class="vl" x="487.84" y="468.06" textLength="12.6" lengthAdjust="spacingAndGlyphs">14</text>
<text class="vl" x="505.03" y="460.63" textLength="12.6" lengthAdjust="spacingAndGlyphs">16</text>
<text class="vl" x="522.22" y="453.20" textLength="12.6" lengthAdjust="spacingAndGlyphs">18</text>
<text class="vl" x="539.41" y="453.20" textLength="12.6" lengthAdjust="spacingAndGlyphs">18</text>
<text class="vl" x="556.60" y="453.20" textLength="12.6" lengthAdjust="spacingAndGlyphs">18</text>
<text class="vl" x="573.79" y="445.76" textLength="12.6" lengthAdjust="spacingAndGlyphs">20</text>
<text class="vl" x="590.98" y="445.76" textLength="12.6" lengthAdjust="spacingAndGlyphs">20</text>
<text class="vl" x="608.17" y="445.76" textLength="12.6" lengthAdjust="spacingAndGlyphs">20</text>
<text class="vl" x="625.36" y="429.80" textLength="12.6" lengthAdjust="spacingAndGlyphs">24</text>
<text class="vl" x="642.55" y="429.80" textLength="12.6" lengthAdjust="spacingAndGlyphs">24</text>
<text class="vl" x="659.74" y="429.80" textLength="12.6" lengthAdjust="spacingAndGlyphs">24</text>
<text class="vl" x="676.93" y="429.80" textLength="12.6" lengthAdjust="spacingAndGlyphs">24</text>
<text class="vl" x="694.12" y="427.18" textLength="12.6" lengthAdjust="spacingAndGlyphs">25</text>
<text class="vl" x="711.31" y="423.46" textLength="12.6" lengthAdjust="spacingAndGlyphs">26</text>
<text class="vl" x="728.40" y="392.50" textLength="30.3" lengthAdjust="spacingAndGlyphs">28-24</text>
<text class="vl" x="745.69" y="416.03" textLength="12.6" lengthAdjust="spacingAndGlyphs">28</text>
<text class="vl" x="762.88" y="412.31" textLength="12.6" lengthAdjust="spacingAndGlyphs">29</text>
<text class="vl" x="780.07" y="401.16" textLength="12.6" lengthAdjust="spacingAndGlyphs">32</text>
<text class="vl" x="797.26" y="401.16" textLength="12.6" lengthAdjust="spacingAndGlyphs">32</text>
<text class="vl" x="814.45" y="401.16" textLength="12.6" lengthAdjust="spacingAndGlyphs">32</text>
<text class="vl" x="831.64" y="401.16" textLength="12.6" lengthAdjust="spacingAndGlyphs">32</text>
<text class="vl" x="848.83" y="401.16" textLength="12.6" lengthAdjust="spacingAndGlyphs">32</text>
<text class="vl" x="866.00" y="365.10" textLength="30.8" lengthAdjust="spacingAndGlyphs">35-20</text>
<text class="vl" x="883.21" y="390.91" textLength="12.6" lengthAdjust="spacingAndGlyphs">35</text>
<text class="vl" x="900.40" y="387.20" textLength="12.6" lengthAdjust="spacingAndGlyphs">36</text>
<text class="vl" x="917.59" y="376.04" textLength="12.6" lengthAdjust="spacingAndGlyphs">39</text>
<text class="vl" x="934.80" y="328.60" textLength="30.5" lengthAdjust="spacingAndGlyphs">40-23</text>
<text class="vl" x="951.97" y="349.63" textLength="12.6" lengthAdjust="spacingAndGlyphs">46</text>
<text class="vl" x="969.16" y="333.36" textLength="12.6" lengthAdjust="spacingAndGlyphs">50</text>
<text class="vl" x="986.35" y="324.93" textLength="12.6" lengthAdjust="spacingAndGlyphs">52</text>
<text class="vl" x="1003.00" y="246.60" textLength="24.0" lengthAdjust="spacingAndGlyphs">69-4</text>
<text class="vl" x="1019.30" y="172.00" textLength="30.7" lengthAdjust="spacingAndGlyphs">73-62</text>
<text class="vl" x="1037.60" y="86.40" textLength="18.9" lengthAdjust="spacingAndGlyphs">101</text>
<text class="vl" x="1054.60" y="66.10" textLength="18.9" lengthAdjust="spacingAndGlyphs">101</text>
<text class="vl" x="1072.00" y="13.00" textLength="18.9" lengthAdjust="spacingAndGlyphs">137</text>
<circle cx="57.4" cy="33" r="6.9" fill="#d86b4c"/>
<circle cx="57.4" cy="51.4" r="6.9" fill="#a4b28a"/>
<text x="75.5" y="37" font-size="14px" fill="#444" textLength="68.5" lengthAdjust="spacingAndGlyphs">Carbon tax</text>
<text x="75.5" y="56.2" font-size="14px" fill="#444" textLength="23" lengthAdjust="spacingAndGlyphs">ETS</text>
<line x1="46.9" y1="726.5" x2="1057" y2="726.5" stroke="#a0a0a0" stroke-width="1"/>
<text class="ft" x="47.4" y="743.5" textLength="1003.3" lengthAdjust="spacingAndGlyphs">Nominal prices on April 1, 2021, shown for illustrative purpose only. China national ETS, Mexico pilot ETS and UK ETS are not shown in this graph as price information is not</text>
<text class="ft" x="47.4" y="759.9" textLength="1005.3" lengthAdjust="spacingAndGlyphs">available for those initiatives. Prices are not necessarily comparable between carbon pricing initiatives because of differences in the sectors covered and allocation methods</text>
<text class="ft" x="47.4" y="776.0" textLength="389.2" lengthAdjust="spacingAndGlyphs">applied, specific exemptions, and different compensation methods.</text>
<text class="ft" x="47.4" y="799.8" textLength="773.3" lengthAdjust="spacingAndGlyphs">* The 2020 carbon price corridor is the recommendation of the World Bank's 2017 High-Level Commission on Carbon Prices Report.</text>
</svg></body></html>
